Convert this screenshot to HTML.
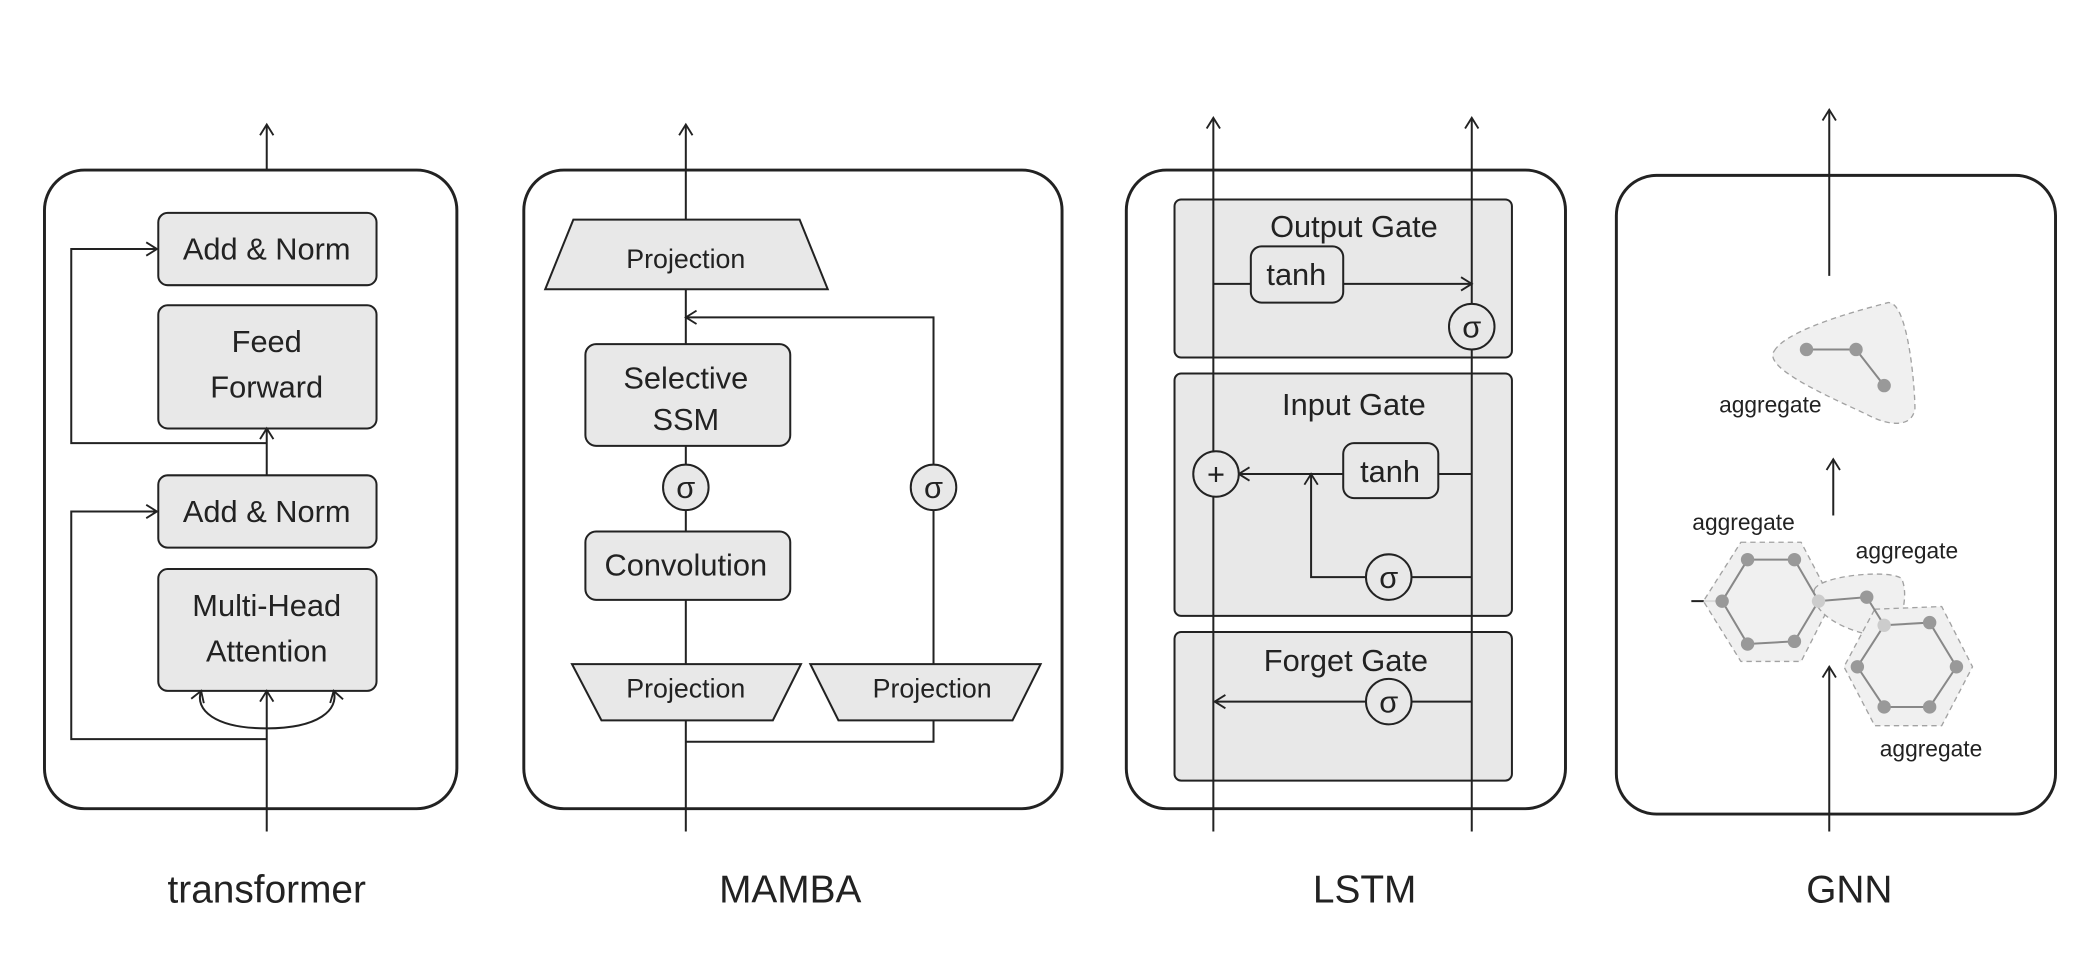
<!DOCTYPE html>
<html><head><meta charset="utf-8"><style>
html,body{margin:0;padding:0;background:#fff;}
svg{display:block}
text{font-family:"Liberation Sans",sans-serif;fill:#222;text-anchor:middle;}
</style></head><body>
<svg width="2100" height="960" viewBox="0 0 1568 717" xmlns="http://www.w3.org/2000/svg">
<defs>
<marker id="a" markerWidth="12" markerHeight="12" refX="10" refY="6" orient="auto" markerUnits="userSpaceOnUse">
<path d="M2,1 L10,6 L2,11" fill="none" stroke="#222" stroke-width="1.4"/></marker>
</defs>
<g stroke="#222" stroke-width="1.5" fill="none">
<!-- transformer -->
<rect x="33" y="127" width="308" height="477" rx="30" stroke-width="2.2"/>
<line x1="199" y1="127" x2="199" y2="93" marker-end="url(#a)"/>
<rect x="118" y="159" width="163" height="54" rx="7" fill="#e8e8e8"/>
<rect x="118" y="228" width="163" height="92" rx="7" fill="#e8e8e8"/>
<rect x="118" y="355" width="163" height="54" rx="7" fill="#e8e8e8"/>
<rect x="118" y="425" width="163" height="91" rx="7" fill="#e8e8e8"/>
<line x1="199" y1="355" x2="199" y2="320" marker-end="url(#a)"/>
<polyline points="199,331 53,331 53,186 117,186" marker-end="url(#a)"/>
<polyline points="199,552 53,552 53,382 117,382" marker-end="url(#a)"/>
<line x1="199" y1="621" x2="199" y2="516" marker-end="url(#a)"/>
<path d="M199,544 C160,544 145,530 150,516" marker-end="url(#a)"/>
<path d="M199,544 C238,544 253,530 249,516" marker-end="url(#a)"/>
<!-- mamba -->
<rect x="391" y="127" width="402" height="477" rx="30" stroke-width="2.2"/>
<line x1="512" y1="621" x2="512" y2="93" marker-end="url(#a)"/>
<polygon points="428,164 597,164 618,216 407,216" fill="#e8e8e8"/>
<polyline points="697,496 697,237 512,237" marker-end="url(#a)"/>
<rect x="437" y="257" width="153" height="76" rx="8" fill="#e8e8e8"/>
<circle cx="512" cy="364" r="17" fill="#e8e8e8"/>
<circle cx="697" cy="364" r="17" fill="#e8e8e8"/>
<rect x="437" y="397" width="153" height="51" rx="8" fill="#e8e8e8"/>
<polygon points="427,496 598,496 577,538 449,538" fill="#e8e8e8"/>
<polygon points="605,496 777,496 756,538 626,538" fill="#e8e8e8"/>
<polyline points="512,554 697,554 697,538"/>
<!-- lstm -->
<rect x="841" y="127" width="328" height="477" rx="30" stroke-width="2.2"/>
<rect x="877" y="149" width="252" height="118" rx="5" fill="#e8e8e8"/>
<rect x="877" y="279" width="252" height="181" rx="5" fill="#e8e8e8"/>
<rect x="877" y="472" width="252" height="111" rx="5" fill="#e8e8e8"/>
<line x1="906" y1="621" x2="906" y2="88" marker-end="url(#a)"/>
<line x1="1099" y1="621" x2="1099" y2="88" marker-end="url(#a)"/>
<line x1="906" y1="212" x2="934" y2="212"/>
<line x1="1003" y1="212" x2="1099" y2="212" marker-end="url(#a)"/>
<rect x="934" y="184" width="69" height="42" rx="8" fill="#e8e8e8"/>
<circle cx="1099" cy="244" r="17" fill="#e8e8e8"/>
<line x1="1099" y1="354" x2="1074" y2="354"/>
<line x1="1003" y1="354" x2="925" y2="354" marker-end="url(#a)"/>
<rect x="1003" y="331" width="71" height="41" rx="8" fill="#e8e8e8"/>
<circle cx="908" cy="354" r="17" fill="#e8e8e8"/>
<polyline points="1020,431 979,431 979,354" marker-end="url(#a)"/>
<line x1="1054" y1="431" x2="1099" y2="431"/>
<circle cx="1037" cy="431" r="17" fill="#e8e8e8"/>
<line x1="1099" y1="524" x2="1054" y2="524"/>
<line x1="1020" y1="524" x2="907" y2="524" marker-end="url(#a)"/>
<circle cx="1037" cy="524" r="17" fill="#e8e8e8"/>
<!-- gnn -->
<rect x="1207" y="131" width="328" height="477" rx="30" stroke-width="2.2"/>
<line x1="1366" y1="206" x2="1366" y2="82" marker-end="url(#a)"/>
<line x1="1369" y1="385" x2="1369" y2="343" marker-end="url(#a)"/>
<line x1="1366" y1="621" x2="1366" y2="498" marker-end="url(#a)"/>
<line x1="1263" y1="449" x2="1284" y2="449"/>
</g>
<g stroke="#999" stroke-width="1" stroke-dasharray="4,3" fill="#efefef" opacity="0.9">
<path d="M1325,262 C1335,245 1395,230 1410,226 C1425,225 1430,290 1430,305 C1428,320 1410,318 1395,310 C1370,298 1315,275 1325,262Z"/>
<path d="M1300,405 L1345,405 L1368,449 L1345,494 L1300,494 L1272,449Z" stroke-linejoin="round"/>
<path d="M1355,440 C1360,430 1410,425 1420,432 C1426,445 1420,472 1405,475 C1390,475 1350,462 1355,440Z"/>
<path d="M1400,455 L1450,453 L1473,498 L1450,542 L1400,542 L1377,498Z" stroke-linejoin="round"/>
</g>
<g stroke="#888" stroke-width="1.5" fill="none">
<polyline points="1349,261 1386,261 1407,288"/>
<polygon points="1305,418 1340,418 1358,449 1340,479 1305,481 1286,449"/>
<polyline points="1358,449 1394,446 1407,467"/>
<polygon points="1407,467 1441,465 1461,498 1441,528 1407,528 1387,498"/>
</g>
<g fill="#999">
<circle cx="1349" cy="261" r="5"/><circle cx="1386" cy="261" r="5"/><circle cx="1407" cy="288" r="5"/>
<circle cx="1305" cy="418" r="5"/><circle cx="1340" cy="418" r="5"/><circle cx="1358" cy="449" r="5" fill="#ccc"/><circle cx="1340" cy="479" r="5"/><circle cx="1305" cy="481" r="5"/><circle cx="1286" cy="449" r="5"/>
<circle cx="1394" cy="446" r="5"/><circle cx="1407" cy="467" r="5" fill="#ccc"/>
<circle cx="1441" cy="465" r="5"/><circle cx="1461" cy="498" r="5"/><circle cx="1441" cy="528" r="5"/><circle cx="1407" cy="528" r="5"/><circle cx="1387" cy="498" r="5"/>
</g>
<g font-size="23">
<text x="199" y="194">Add &amp; Norm</text>
<text x="199" y="263">Feed</text>
<text x="199" y="297">Forward</text>
<text x="199" y="390">Add &amp; Norm</text>
<text x="199" y="460">Multi-Head</text>
<text x="199" y="494">Attention</text>
<text x="512" y="290">Selective</text>
<text x="512" y="321">SSM</text>
<text x="512" y="430">Convolution</text>
<text x="1011" y="177">Output Gate</text>
<text x="968" y="213">tanh</text>
<text x="1011" y="310">Input Gate</text>
<text x="1038" y="360">tanh</text>
<text x="1005" y="501">Forget Gate</text>
<text x="908" y="362">+</text>
<text x="512" y="372">σ</text><text x="697" y="372">σ</text>
<text x="1099" y="252">σ</text><text x="1037" y="439">σ</text><text x="1037" y="532">σ</text>
</g>
<g font-size="20">
<text x="512" y="200">Projection</text>
<text x="512" y="521">Projection</text>
<text x="696" y="521">Projection</text>
</g>
<g font-size="17">
<text x="1322" y="308">aggregate</text>
<text x="1302" y="396">aggregate</text>
<text x="1424" y="417">aggregate</text>
<text x="1442" y="565">aggregate</text>
</g>
<g font-size="29">
<text x="199" y="674">transformer</text>
<text x="590" y="674">MAMBA</text>
<text x="1019" y="674">LSTM</text>
<text x="1381" y="674">GNN</text>
</g>
</svg>
</body></html>
